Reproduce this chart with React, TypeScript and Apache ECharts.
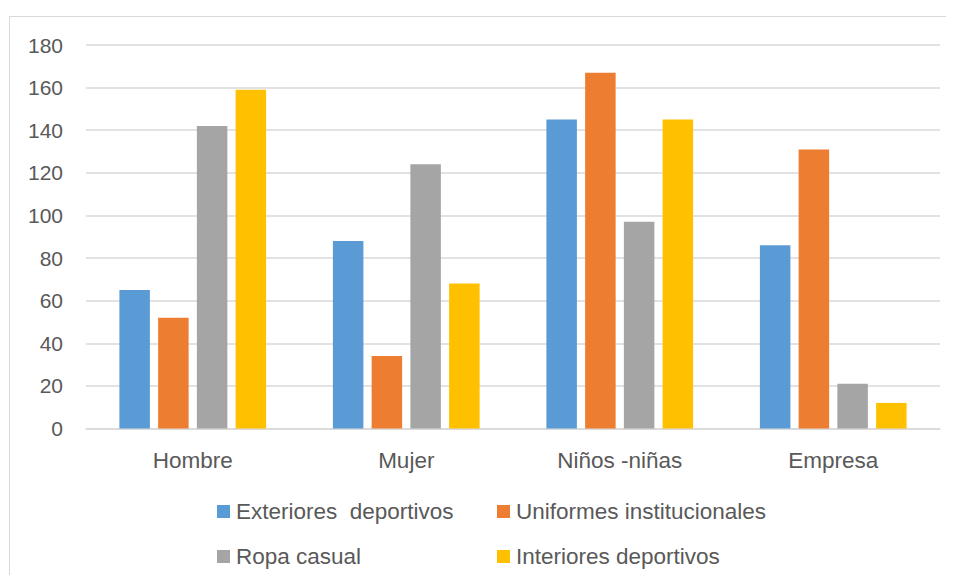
import React, { useEffect, useRef } from "react";
import * as echarts from "echarts";

const categories = ["Hombre", "Mujer", "Niños -niñas", "Empresa"];
const seriesNames = [
  "Exteriores  deportivos",
  "Uniformes institucionales",
  "Ropa casual",
  "Interiores deportivos",
];
const exteriores = [65, 88, 145, 86];
const uniformes = [52, 34, 167, 131];
const ropaCasual = [142, 124, 97, 21];
const interiores = [159, 68, 145, 12];
const colors = ["#5b9bd5", "#ed7d31", "#a5a5a5", "#ffc000"];
const yTicks = { min: 0, max: 180, interval: 20 };

const FONT = "'Liberation Sans', Arial, sans-serif";
const TEXT = "#595959";

export default function App() {
  const ref = useRef<HTMLDivElement>(null);
  useEffect(() => {
    if (!ref.current) return;
    const chart = echarts.init(ref.current, null, { renderer: "svg" });
    const values = [exteriores, uniformes, ropaCasual, interiores];
    const legendPos = [
      { left: 217, top: 500 },
      { left: 497, top: 500 },
      { left: 217, top: 545 },
      { left: 497, top: 545 },
    ];
    chart.setOption({
      animation: false,
      color: colors,
      grid: { left: 86, right: 14, top: 45, bottom: 154.5, containLabel: false },
      legend: seriesNames.map((n, i) => ({
        data: [n],
        left: legendPos[i].left,
        top: legendPos[i].top,
        itemWidth: 13,
        itemHeight: 13,
        icon: "rect",
        padding: 0,
        textStyle: { fontFamily: FONT, fontSize: 22.5, color: TEXT, padding: [0, 0, 0, 1] },
      })),
      xAxis: {
        type: "category",
        data: categories,
        axisTick: { show: false },
        axisLine: { show: true, lineStyle: { color: "#d9d9d9", width: 1.5 } },
        axisLabel: { fontFamily: FONT, fontSize: 22.5, color: TEXT, margin: 20 },
      },
      yAxis: {
        type: "value",
        min: yTicks.min,
        max: yTicks.max,
        interval: yTicks.interval,
        axisLine: { show: false },
        axisTick: { show: false },
        splitLine: { lineStyle: { color: "#d9d9d9", width: 1.5 } },
        axisLabel: { fontFamily: FONT, fontSize: 21, color: TEXT, margin: 23 },
      },
      series: seriesNames.map((n, i) => ({
        name: n,
        type: "bar",
        data: values[i],
        barWidth: 30.5,
        barGap: "27%",
        itemStyle: { color: colors[i] },
      })),
    });
    return () => chart.dispose();
  }, []);
  return (
    <div style={{ position: "relative", width: 954, height: 583, margin: -8, overflow: "hidden" }}>
      <div
        style={{
          position: "absolute",
          left: 9,
          top: 16,
          width: 960,
          height: 600,
          borderTop: "1px solid #d9d9d9",
          borderLeft: "1px solid #d9d9d9",
          boxSizing: "border-box",
        }}
      />
      <div ref={ref} style={{ position: "absolute", left: 0, top: 0, width: 954, height: 583 }} />
    </div>
  );
}
